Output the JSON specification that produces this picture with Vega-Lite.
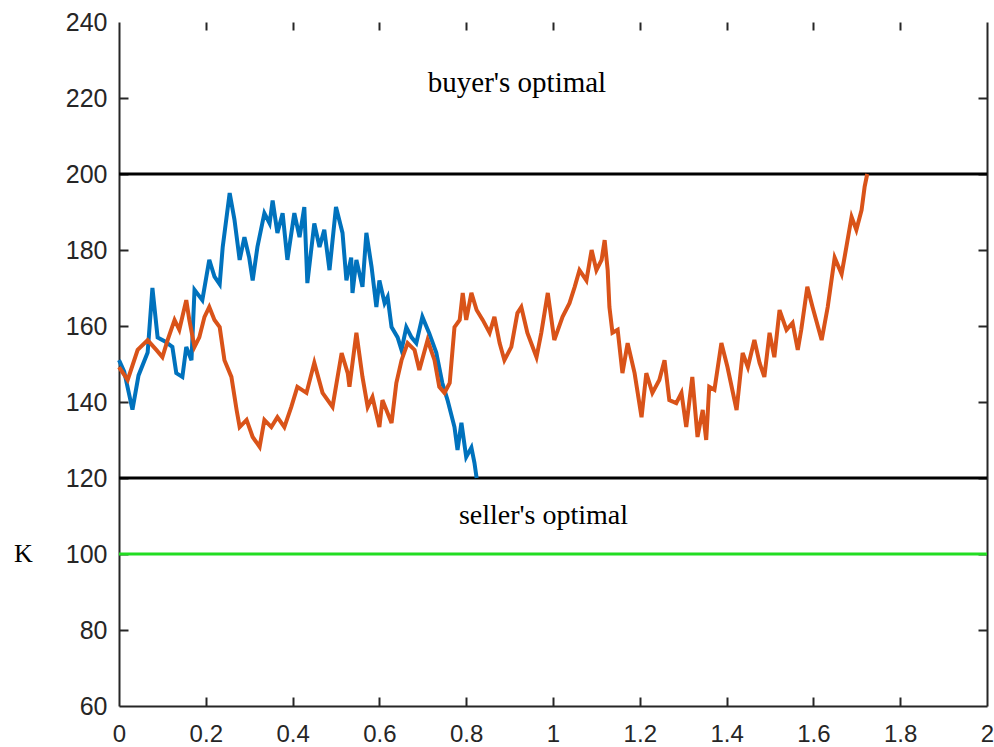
{
  "$schema": "https://vega.github.io/schema/vega-lite/v6.json",
  "width": 868,
  "height": 684,
  "autosize": {"type": "none"},
  "padding": {"left": 119, "top": 22, "right": 7, "bottom": 41},
  "background": "white",
  "config": {
    "view": {"stroke": null},
    "axis": {
      "grid": false,
      "title": null,
      "labelFont": "Liberation Sans",
      "labelFontSize": 25,
      "labelColor": "#262626",
      "domainColor": "#262626",
      "tickColor": "#262626",
      "domainWidth": 2,
      "tickWidth": 2
    }
  },
  "datasets": {
    "paths": [
      {"s": "A", "x": 0, "y": 151}, {"s": "A", "x": 0.012, "y": 148}, {"s": "A", "x": 0.031, "y": 138}, {"s": "A", "x": 0.045, "y": 147},
      {"s": "A", "x": 0.066, "y": 153}, {"s": "A", "x": 0.077, "y": 170}, {"s": "A", "x": 0.089, "y": 157}, {"s": "A", "x": 0.105, "y": 156},
      {"s": "A", "x": 0.123, "y": 154.5}, {"s": "A", "x": 0.132, "y": 147.6}, {"s": "A", "x": 0.146, "y": 146.6}, {"s": "A", "x": 0.155, "y": 154.5},
      {"s": "A", "x": 0.167, "y": 151}, {"s": "A", "x": 0.174, "y": 169.5}, {"s": "A", "x": 0.192, "y": 166.8}, {"s": "A", "x": 0.208, "y": 177.4},
      {"s": "A", "x": 0.22, "y": 173}, {"s": "A", "x": 0.232, "y": 171}, {"s": "A", "x": 0.239, "y": 180.8}, {"s": "A", "x": 0.255, "y": 195},
      {"s": "A", "x": 0.266, "y": 188}, {"s": "A", "x": 0.278, "y": 177.4}, {"s": "A", "x": 0.289, "y": 183.4}, {"s": "A", "x": 0.3, "y": 178},
      {"s": "A", "x": 0.308, "y": 172}, {"s": "A", "x": 0.319, "y": 180.8}, {"s": "A", "x": 0.335, "y": 189.7}, {"s": "A", "x": 0.347, "y": 187},
      {"s": "A", "x": 0.354, "y": 193}, {"s": "A", "x": 0.365, "y": 184.5}, {"s": "A", "x": 0.377, "y": 189.7}, {"s": "A", "x": 0.388, "y": 177.4},
      {"s": "A", "x": 0.404, "y": 189.7}, {"s": "A", "x": 0.416, "y": 183.4}, {"s": "A", "x": 0.427, "y": 191.3}, {"s": "A", "x": 0.434, "y": 171.3},
      {"s": "A", "x": 0.45, "y": 187}, {"s": "A", "x": 0.462, "y": 180.8}, {"s": "A", "x": 0.473, "y": 185.3}, {"s": "A", "x": 0.485, "y": 174.7},
      {"s": "A", "x": 0.5, "y": 191.3}, {"s": "A", "x": 0.515, "y": 184.5}, {"s": "A", "x": 0.524, "y": 172}, {"s": "A", "x": 0.535, "y": 178},
      {"s": "A", "x": 0.538, "y": 168.7}, {"s": "A", "x": 0.547, "y": 177.4}, {"s": "A", "x": 0.561, "y": 170.3}, {"s": "A", "x": 0.57, "y": 184.5},
      {"s": "A", "x": 0.582, "y": 175.5}, {"s": "A", "x": 0.593, "y": 165}, {"s": "A", "x": 0.6, "y": 172}, {"s": "A", "x": 0.612, "y": 166},
      {"s": "A", "x": 0.619, "y": 167.6}, {"s": "A", "x": 0.628, "y": 159.7}, {"s": "A", "x": 0.642, "y": 157}, {"s": "A", "x": 0.651, "y": 153.7},
      {"s": "A", "x": 0.662, "y": 159.7}, {"s": "A", "x": 0.674, "y": 157}, {"s": "A", "x": 0.685, "y": 155.5}, {"s": "A", "x": 0.699, "y": 162.4},
      {"s": "A", "x": 0.715, "y": 158}, {"s": "A", "x": 0.731, "y": 153}, {"s": "A", "x": 0.745, "y": 145}, {"s": "A", "x": 0.757, "y": 140.5},
      {"s": "A", "x": 0.773, "y": 133.4}, {"s": "A", "x": 0.78, "y": 127.4}, {"s": "A", "x": 0.789, "y": 134.5}, {"s": "A", "x": 0.8, "y": 125.5},
      {"s": "A", "x": 0.812, "y": 128}, {"s": "A", "x": 0.819, "y": 124}, {"s": "A", "x": 0.824, "y": 120},
      {"s": "B", "x": 0, "y": 149.2}, {"s": "B", "x": 0.02, "y": 145.8}, {"s": "B", "x": 0.043, "y": 153.7}, {"s": "B", "x": 0.066, "y": 156.3},
      {"s": "B", "x": 0.086, "y": 153.7}, {"s": "B", "x": 0.1, "y": 151.8}, {"s": "B", "x": 0.112, "y": 156.3}, {"s": "B", "x": 0.128, "y": 161.6},
      {"s": "B", "x": 0.139, "y": 159}, {"s": "B", "x": 0.155, "y": 166.8}, {"s": "B", "x": 0.162, "y": 161.6}, {"s": "B", "x": 0.174, "y": 154.5},
      {"s": "B", "x": 0.185, "y": 157}, {"s": "B", "x": 0.197, "y": 162.4}, {"s": "B", "x": 0.208, "y": 165}, {"s": "B", "x": 0.22, "y": 161.6},
      {"s": "B", "x": 0.232, "y": 159.7}, {"s": "B", "x": 0.243, "y": 151}, {"s": "B", "x": 0.259, "y": 146.6}, {"s": "B", "x": 0.271, "y": 137.9},
      {"s": "B", "x": 0.278, "y": 133.4}, {"s": "B", "x": 0.294, "y": 135.3}, {"s": "B", "x": 0.308, "y": 130.8}, {"s": "B", "x": 0.324, "y": 128.2},
      {"s": "B", "x": 0.335, "y": 135.3}, {"s": "B", "x": 0.351, "y": 133.4}, {"s": "B", "x": 0.365, "y": 136}, {"s": "B", "x": 0.381, "y": 133.4},
      {"s": "B", "x": 0.397, "y": 138.7}, {"s": "B", "x": 0.411, "y": 144}, {"s": "B", "x": 0.432, "y": 142.4}, {"s": "B", "x": 0.45, "y": 150.3},
      {"s": "B", "x": 0.469, "y": 142.4}, {"s": "B", "x": 0.492, "y": 138.7}, {"s": "B", "x": 0.513, "y": 152.9}, {"s": "B", "x": 0.527, "y": 147.6},
      {"s": "B", "x": 0.531, "y": 144}, {"s": "B", "x": 0.547, "y": 158.2}, {"s": "B", "x": 0.561, "y": 146.6}, {"s": "B", "x": 0.573, "y": 138.7},
      {"s": "B", "x": 0.584, "y": 141.3}, {"s": "B", "x": 0.6, "y": 133.4}, {"s": "B", "x": 0.607, "y": 140.5}, {"s": "B", "x": 0.628, "y": 134.5},
      {"s": "B", "x": 0.639, "y": 145}, {"s": "B", "x": 0.651, "y": 151}, {"s": "B", "x": 0.665, "y": 155.5}, {"s": "B", "x": 0.681, "y": 153.7},
      {"s": "B", "x": 0.692, "y": 148.4}, {"s": "B", "x": 0.711, "y": 156.3}, {"s": "B", "x": 0.727, "y": 151}, {"s": "B", "x": 0.738, "y": 144},
      {"s": "B", "x": 0.75, "y": 142.4}, {"s": "B", "x": 0.762, "y": 145}, {"s": "B", "x": 0.773, "y": 159.7}, {"s": "B", "x": 0.785, "y": 161.6},
      {"s": "B", "x": 0.792, "y": 168.7}, {"s": "B", "x": 0.8, "y": 161.6}, {"s": "B", "x": 0.812, "y": 168.7}, {"s": "B", "x": 0.824, "y": 164.2},
      {"s": "B", "x": 0.838, "y": 161.6}, {"s": "B", "x": 0.854, "y": 158.2}, {"s": "B", "x": 0.865, "y": 162.4}, {"s": "B", "x": 0.877, "y": 155.5},
      {"s": "B", "x": 0.888, "y": 151}, {"s": "B", "x": 0.904, "y": 154.5}, {"s": "B", "x": 0.918, "y": 163.4}, {"s": "B", "x": 0.927, "y": 165},
      {"s": "B", "x": 0.941, "y": 158.2}, {"s": "B", "x": 0.962, "y": 151.8}, {"s": "B", "x": 0.973, "y": 158.2}, {"s": "B", "x": 0.988, "y": 168.7},
      {"s": "B", "x": 1.003, "y": 156.3}, {"s": "B", "x": 1.022, "y": 162.4}, {"s": "B", "x": 1.038, "y": 166}, {"s": "B", "x": 1.05, "y": 170.3},
      {"s": "B", "x": 1.061, "y": 174.7}, {"s": "B", "x": 1.077, "y": 172}, {"s": "B", "x": 1.089, "y": 180}, {"s": "B", "x": 1.1, "y": 174.7},
      {"s": "B", "x": 1.112, "y": 177.4}, {"s": "B", "x": 1.119, "y": 182.6}, {"s": "B", "x": 1.126, "y": 174.7}, {"s": "B", "x": 1.13, "y": 165},
      {"s": "B", "x": 1.137, "y": 158.2}, {"s": "B", "x": 1.149, "y": 159}, {"s": "B", "x": 1.16, "y": 147.6}, {"s": "B", "x": 1.172, "y": 155.5},
      {"s": "B", "x": 1.188, "y": 147.6}, {"s": "B", "x": 1.204, "y": 136}, {"s": "B", "x": 1.215, "y": 147.6}, {"s": "B", "x": 1.229, "y": 142.4},
      {"s": "B", "x": 1.245, "y": 145.8}, {"s": "B", "x": 1.257, "y": 151}, {"s": "B", "x": 1.268, "y": 140.5}, {"s": "B", "x": 1.284, "y": 139.7},
      {"s": "B", "x": 1.296, "y": 142.4}, {"s": "B", "x": 1.307, "y": 133.4}, {"s": "B", "x": 1.321, "y": 146.6}, {"s": "B", "x": 1.333, "y": 130.8},
      {"s": "B", "x": 1.345, "y": 137.9}, {"s": "B", "x": 1.353, "y": 130}, {"s": "B", "x": 1.36, "y": 144}, {"s": "B", "x": 1.372, "y": 143.2},
      {"s": "B", "x": 1.388, "y": 155.5}, {"s": "B", "x": 1.402, "y": 149.2}, {"s": "B", "x": 1.423, "y": 137.9}, {"s": "B", "x": 1.437, "y": 152.9},
      {"s": "B", "x": 1.449, "y": 149.2}, {"s": "B", "x": 1.464, "y": 156.3}, {"s": "B", "x": 1.476, "y": 150.3}, {"s": "B", "x": 1.487, "y": 146.6},
      {"s": "B", "x": 1.499, "y": 158.2}, {"s": "B", "x": 1.51, "y": 151.8}, {"s": "B", "x": 1.522, "y": 164.2}, {"s": "B", "x": 1.538, "y": 159},
      {"s": "B", "x": 1.552, "y": 160.8}, {"s": "B", "x": 1.564, "y": 153.7}, {"s": "B", "x": 1.572, "y": 159}, {"s": "B", "x": 1.586, "y": 170.3},
      {"s": "B", "x": 1.598, "y": 165}, {"s": "B", "x": 1.619, "y": 156.3}, {"s": "B", "x": 1.633, "y": 165}, {"s": "B", "x": 1.649, "y": 178},
      {"s": "B", "x": 1.665, "y": 173.7}, {"s": "B", "x": 1.676, "y": 180.8}, {"s": "B", "x": 1.688, "y": 188.7}, {"s": "B", "x": 1.699, "y": 185.3},
      {"s": "B", "x": 1.711, "y": 190.5}, {"s": "B", "x": 1.718, "y": 196.6}, {"s": "B", "x": 1.724, "y": 200}
    ],
    "levels": [
      {"y": 200, "c": "black"},
      {"y": 120, "c": "black"},
      {"y": 100, "c": "green"}
    ],
    "notes": [
      {"x": 0.917, "y": 221.6, "t": "buyer's optimal"},
      {"x": 0.978, "y": 107.9, "t": "seller's optimal"}
    ]
  },
  "resolve": {"axis": {"x": "independent", "y": "independent"}},
  "layer": [
    {
      "data": {"name": "levels"},
      "mark": {"type": "rule", "strokeWidth": 3},
      "encoding": {
        "x": {"datum": 0, "type": "quantitative", "scale": {"domain": [0, 2], "nice": false},
          "axis": {"orient": "bottom", "labels": false, "domain": false, "offset": -9, "tickSize": 9, "values": [0.2, 0.4, 0.6, 0.8, 1, 1.2, 1.4, 1.6, 1.8]}},
        "x2": {"datum": 2},
        "y": {"field": "y", "type": "quantitative", "scale": {"domain": [60, 240], "nice": false},
          "axis": {"orient": "left", "labels": false, "domain": false, "offset": -9, "tickSize": 9, "values": [80, 100, 120, 140, 160, 180, 200, 220]}},
        "color": {"field": "c", "type": "nominal", "scale": {"domain": ["A", "B", "black", "green"], "range": ["#0072BD", "#D95319", "#000000", "#22dd22"]}, "legend": null}
      }
    },
    {
      "data": {"name": "paths"},
      "mark": {"type": "line", "strokeWidth": 4, "strokeJoin": "miter"},
      "encoding": {
        "x": {
          "field": "x", "type": "quantitative", "scale": {"domain": [0, 2], "nice": false},
          "axis": {"orient": "bottom", "values": [0, 0.2, 0.4, 0.6, 0.8, 1, 1.2, 1.4, 1.6, 1.8, 2], "format": "~g", "ticks": false, "labelPadding": 16, "labelFontSize": 24, "labelFlush": false}
        },
        "y": {
          "field": "y", "type": "quantitative", "scale": {"domain": [60, 240], "nice": false},
          "axis": {"orient": "left", "title": "K", "values": [60, 80, 100, 120, 140, 160, 180, 200, 220, 240], "ticks": false, "labelPadding": 12,
            "titleFont": "Liberation Serif", "titleFontSize": 26, "titleFontWeight": "normal", "titleColor": "#000000", "titleAngle": 0,
            "titleX": -96, "titleY": 531, "titleAlign": "center", "titleBaseline": "middle"}
        },
        "detail": {"field": "s"},
        "color": {"field": "s", "type": "nominal", "scale": {"domain": ["A", "B", "black", "green"], "range": ["#0072BD", "#D95319", "#000000", "#22dd22"]}, "legend": null}
      }
    },
    {
      "data": {"name": "notes"},
      "transform": [{"filter": "datum.y > 200"}],
      "mark": {"type": "text", "font": "Liberation Serif", "fontSize": 29, "baseline": "alphabetic", "align": "center", "color": "#000000"},
      "encoding": {
        "x": {
          "field": "x", "type": "quantitative", "scale": {"domain": [0, 2], "nice": false},
          "axis": {"orient": "top", "labels": false, "domain": false, "offset": -8, "tickSize": 8, "values": [0.2, 0.4, 0.6, 0.8, 1, 1.2, 1.4, 1.6, 1.8]}
        },
        "y": {
          "field": "y", "type": "quantitative", "scale": {"domain": [60, 240], "nice": false},
          "axis": {"orient": "right", "labels": false, "ticks": false, "values": [60, 240]}
        },
        "text": {"field": "t"}
      }
    },
    {
      "data": {"name": "notes"},
      "transform": [{"filter": "datum.y < 200"}],
      "mark": {"type": "text", "font": "Liberation Serif", "fontSize": 28, "baseline": "alphabetic", "align": "center", "color": "#000000"},
      "encoding": {
        "x": {"field": "x", "type": "quantitative", "scale": {"domain": [0, 2], "nice": false}, "axis": null},
        "y": {
          "field": "y", "type": "quantitative", "scale": {"domain": [60, 240], "nice": false},
          "axis": {"orient": "right", "labels": false, "domain": false, "offset": -9, "tickSize": 9, "values": [80, 100, 120, 140, 160, 180, 200, 220]}
        },
        "text": {"field": "t"}
      }
    }
  ]
}
